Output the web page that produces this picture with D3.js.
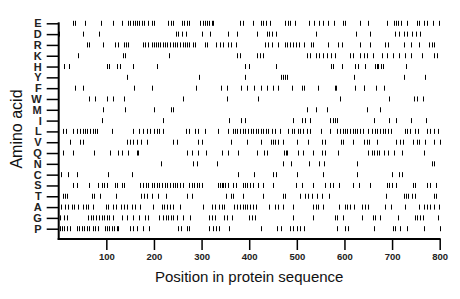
<!DOCTYPE html>
<html>
<head>
<meta charset="utf-8">
<script src="https://cdn.jsdelivr.net/npm/d3@7"></script>
<style>
  body { margin: 0; background: #fff; }
  svg { display: block; font-family: "Liberation Sans", Arial, sans-serif; }
</style>
</head>
<body>
<svg id="chart" width="460" height="299"></svg>
<script>
// residue positions
const aminoAcids = ['E', 'D', 'R', 'K', 'H', 'Y', 'F', 'W', 'M', 'I', 'L', 'V', 'Q', 'N', 'C', 'S', 'T', 'A', 'G', 'P']
const xTicks = [100, 200, 300, 400, 500, 600, 700, 800]

const posE = [31, 35, 56, 88, 113, 133, 145, 150, 155, 160, 164, 169, 174, 179, 188, 195, 200, 230, 235, 241, 258, 263, 269, 274, 297, 302, 307, 311, 316, 321, 325, 381, 386, 407, 425, 430, 435, 444, 475, 481, 486, 496, 526, 536, 546, 556, 566, 578, 598, 601, 633, 650, 689, 703, 708, 713, 719, 732, 752, 757, 766, 774, 785, 799]
const posD = [1, 50, 85, 246, 250, 258, 267, 300, 318, 356, 374, 416, 437, 442, 447, 456, 540, 624, 654, 706, 715, 725, 732, 741, 750, 759]
const posR = [59, 63, 94, 118, 125, 137, 141, 146, 176, 181, 188, 195, 200, 204, 209, 213, 218, 223, 228, 234, 239, 244, 249, 255, 260, 265, 270, 274, 281, 286, 307, 311, 330, 339, 344, 356, 362, 372, 433, 440, 447, 461, 475, 480, 486, 491, 498, 505, 515, 529, 533, 565, 587, 594, 633, 654, 685, 692, 724, 739, 757, 778, 783, 788]
const posK = [41, 134, 139, 232, 375, 381, 417, 423, 428, 521, 528, 540, 547, 554, 564, 571, 580, 612, 617, 633, 640, 648, 659, 678, 690, 701, 715, 727, 739, 762, 787, 795]
const posH = [11, 22, 102, 106, 122, 129, 155, 206, 391, 400, 456, 571, 577, 594, 622, 629, 643, 664, 668, 671, 676, 680, 729]
const posY = [144, 295, 391, 466, 470, 475, 480, 620, 725, 769]
const posF = [34, 52, 159, 196, 288, 340, 353, 382, 396, 410, 424, 437, 449, 461, 489, 510, 515, 545, 580, 582, 623, 640, 642, 666, 682]
const posW = [64, 76, 101, 115, 137, 262, 354, 419, 591, 694, 746, 752, 764]
const posM = [92, 140, 200, 235, 241, 522, 540, 563, 647, 675]
const posI = [90, 220, 358, 382, 391, 491, 510, 517, 528, 570, 575, 580, 585, 662, 694, 708, 739, 771]
const posL = [10, 15, 31, 38, 45, 50, 55, 60, 66, 71, 76, 80, 111, 157, 169, 178, 185, 192, 201, 206, 211, 220, 267, 274, 286, 293, 307, 335, 355, 365, 370, 375, 381, 386, 391, 398, 403, 409, 414, 419, 424, 430, 435, 440, 447, 454, 465, 482, 489, 495, 502, 507, 514, 521, 528, 550, 570, 585, 591, 596, 601, 606, 612, 617, 622, 627, 633, 638, 650, 657, 664, 669, 675, 680, 685, 692, 697, 727, 732, 738, 748, 755, 774, 780, 787, 797]
const posV = [24, 45, 52, 143, 150, 157, 164, 172, 185, 241, 248, 293, 300, 361, 396, 424, 445, 449, 454, 461, 470, 500, 524, 552, 559, 592, 598, 619, 641, 647, 652, 668, 708, 717, 722, 743, 752, 757, 769, 788, 800]
const posQ = [10, 29, 74, 108, 125, 132, 146, 165, 167, 269, 279, 293, 309, 342, 356, 377, 416, 431, 437, 473, 477, 480, 503, 514, 533, 552, 559, 587, 650, 657, 662, 668, 673, 682, 692, 704, 720, 767]
const posN = [214, 281, 290, 333, 470, 487, 526, 547, 557, 626, 783, 787]
const posC = [5, 20, 39, 104, 153, 376, 410, 451, 456, 501, 556, 626, 699, 715, 720]
const posS = [31, 39, 64, 83, 90, 95, 101, 118, 123, 132, 137, 171, 176, 183, 188, 195, 200, 206, 211, 216, 223, 228, 234, 239, 244, 249, 255, 260, 274, 279, 284, 290, 295, 300, 335, 339, 342, 346, 349, 356, 367, 372, 386, 391, 396, 402, 409, 419, 430, 451, 498, 510, 535, 559, 570, 577, 589, 617, 631, 654, 689, 694, 699, 708, 743, 748, 774, 780, 792]
const posT = [8, 13, 18, 69, 74, 87, 120, 173, 179, 185, 195, 209, 225, 269, 279, 351, 361, 367, 386, 430, 470, 475, 507, 517, 524, 531, 542, 552, 568, 687, 724, 729, 734, 741, 748, 788, 792]
const posA = [4, 13, 20, 27, 32, 41, 52, 57, 62, 73, 99, 104, 115, 120, 130, 137, 143, 153, 160, 171, 199, 216, 221, 227, 234, 239, 255, 302, 321, 328, 337, 342, 347, 368, 374, 381, 386, 391, 396, 402, 407, 414, 442, 454, 461, 472, 493, 535, 540, 545, 556, 589, 601, 606, 612, 620, 636, 643, 650, 685, 697, 727, 757, 766, 773, 780, 787, 799]
const posG = [3, 11, 17, 62, 67, 73, 78, 84, 90, 95, 101, 106, 115, 132, 144, 157, 169, 181, 188, 211, 220, 225, 230, 235, 241, 248, 260, 276, 316, 321, 328, 347, 354, 363, 400, 405, 412, 493, 535, 580, 585, 598, 636, 659, 664, 675, 713, 748, 753, 759, 764, 797]
const posP = [3, 6, 11, 17, 24, 38, 43, 48, 53, 60, 64, 71, 76, 83, 97, 101, 106, 111, 116, 122, 125, 150, 155, 164, 176, 190, 251, 256, 269, 274, 316, 323, 330, 337, 358, 424, 459, 466, 486, 493, 500, 507, 515, 584, 601, 608, 662, 701, 706, 717, 731, 766, 800]

const rows = [
  ['E', posE], ['D', posD], ['R', posR], ['K', posK], ['H', posH],
  ['Y', posY], ['F', posF], ['W', posW], ['M', posM], ['I', posI],
  ['L', posL], ['V', posV], ['Q', posQ], ['N', posN], ['C', posC],
  ['S', posS], ['T', posT], ['A', posA], ['G', posG], ['P', posP]
]

const svg = d3.select('#chart')
const plotLeft = 58.7
const plotRight = 439.7
const plotTop = 23.3
const plotBottom = 239

const x = d3.scaleLinear().domain([0, 800]).range([plotLeft, plotRight])
const y = d3.scalePoint().domain(aminoAcids).range([plotTop, 228.7])

// residue marks
const marks = rows.flatMap(([aa, list]) => list.map(p => ({ aa, p })))
svg.append('g')
  .selectAll('line')
  .data(marks)
  .join('line')
  .attr('x1', d => Math.round(x(d.p)) + 0.5)
  .attr('x2', d => Math.round(x(d.p)) + 0.5)
  .attr('y1', d => y(d.aa) - 2.5)
  .attr('y2', d => y(d.aa) + 2.5)
  .attr('stroke', '#000')
  .attr('stroke-width', 1)

// y axis
const gy = svg.append('g')
  .attr('transform', `translate(${plotLeft},0)`)
  .call(d3.axisLeft(y).tickSize(12).tickSizeOuter(0).tickPadding(5))
gy.select('.domain').remove()
gy.selectAll('.tick line').attr('stroke', '#000').attr('stroke-width', 1.5)
gy.selectAll('.tick text')
  .attr('font-size', 11)
  .attr('font-weight', 'bold')
  .attr('fill', '#222')
  .attr('font-family', '"Liberation Sans", Arial, sans-serif')

// x axis
const gx = svg.append('g')
  .attr('transform', `translate(0,${plotBottom})`)
  .call(d3.axisBottom(x).tickValues(xTicks).tickSize(11).tickSizeOuter(0).tickPadding(3))
gx.select('.domain').remove()
gx.selectAll('.tick line').attr('stroke', '#000').attr('stroke-width', 1.5)
gx.selectAll('.tick text')
  .attr('font-size', 9.5)
  .attr('font-weight', 'bold')
  .attr('fill', '#222')
  .attr('font-family', '"Liberation Sans", Arial, sans-serif')

// axis frame lines
svg.append('line')
  .attr('x1', plotLeft).attr('x2', plotLeft)
  .attr('y1', plotTop - 1).attr('y2', plotBottom + 1)
  .attr('stroke', '#000').attr('stroke-width', 2)
svg.append('line')
  .attr('x1', plotLeft - 1).attr('x2', plotRight + 1)
  .attr('y1', plotBottom).attr('y2', plotBottom)
  .attr('stroke', '#000').attr('stroke-width', 2)

// titles
svg.append('text')
  .attr('x', (plotLeft + plotRight) / 2)
  .attr('y', 282)
  .attr('text-anchor', 'middle')
  .attr('font-size', 15)
  .attr('fill', '#111')
  .text('Position in protein sequence')

svg.append('text')
  .attr('transform', 'translate(22,129) rotate(-90)')
  .attr('text-anchor', 'middle')
  .attr('font-size', 16)
  .attr('fill', '#111')
  .text('Amino acid')
</script>
</body>
</html>
